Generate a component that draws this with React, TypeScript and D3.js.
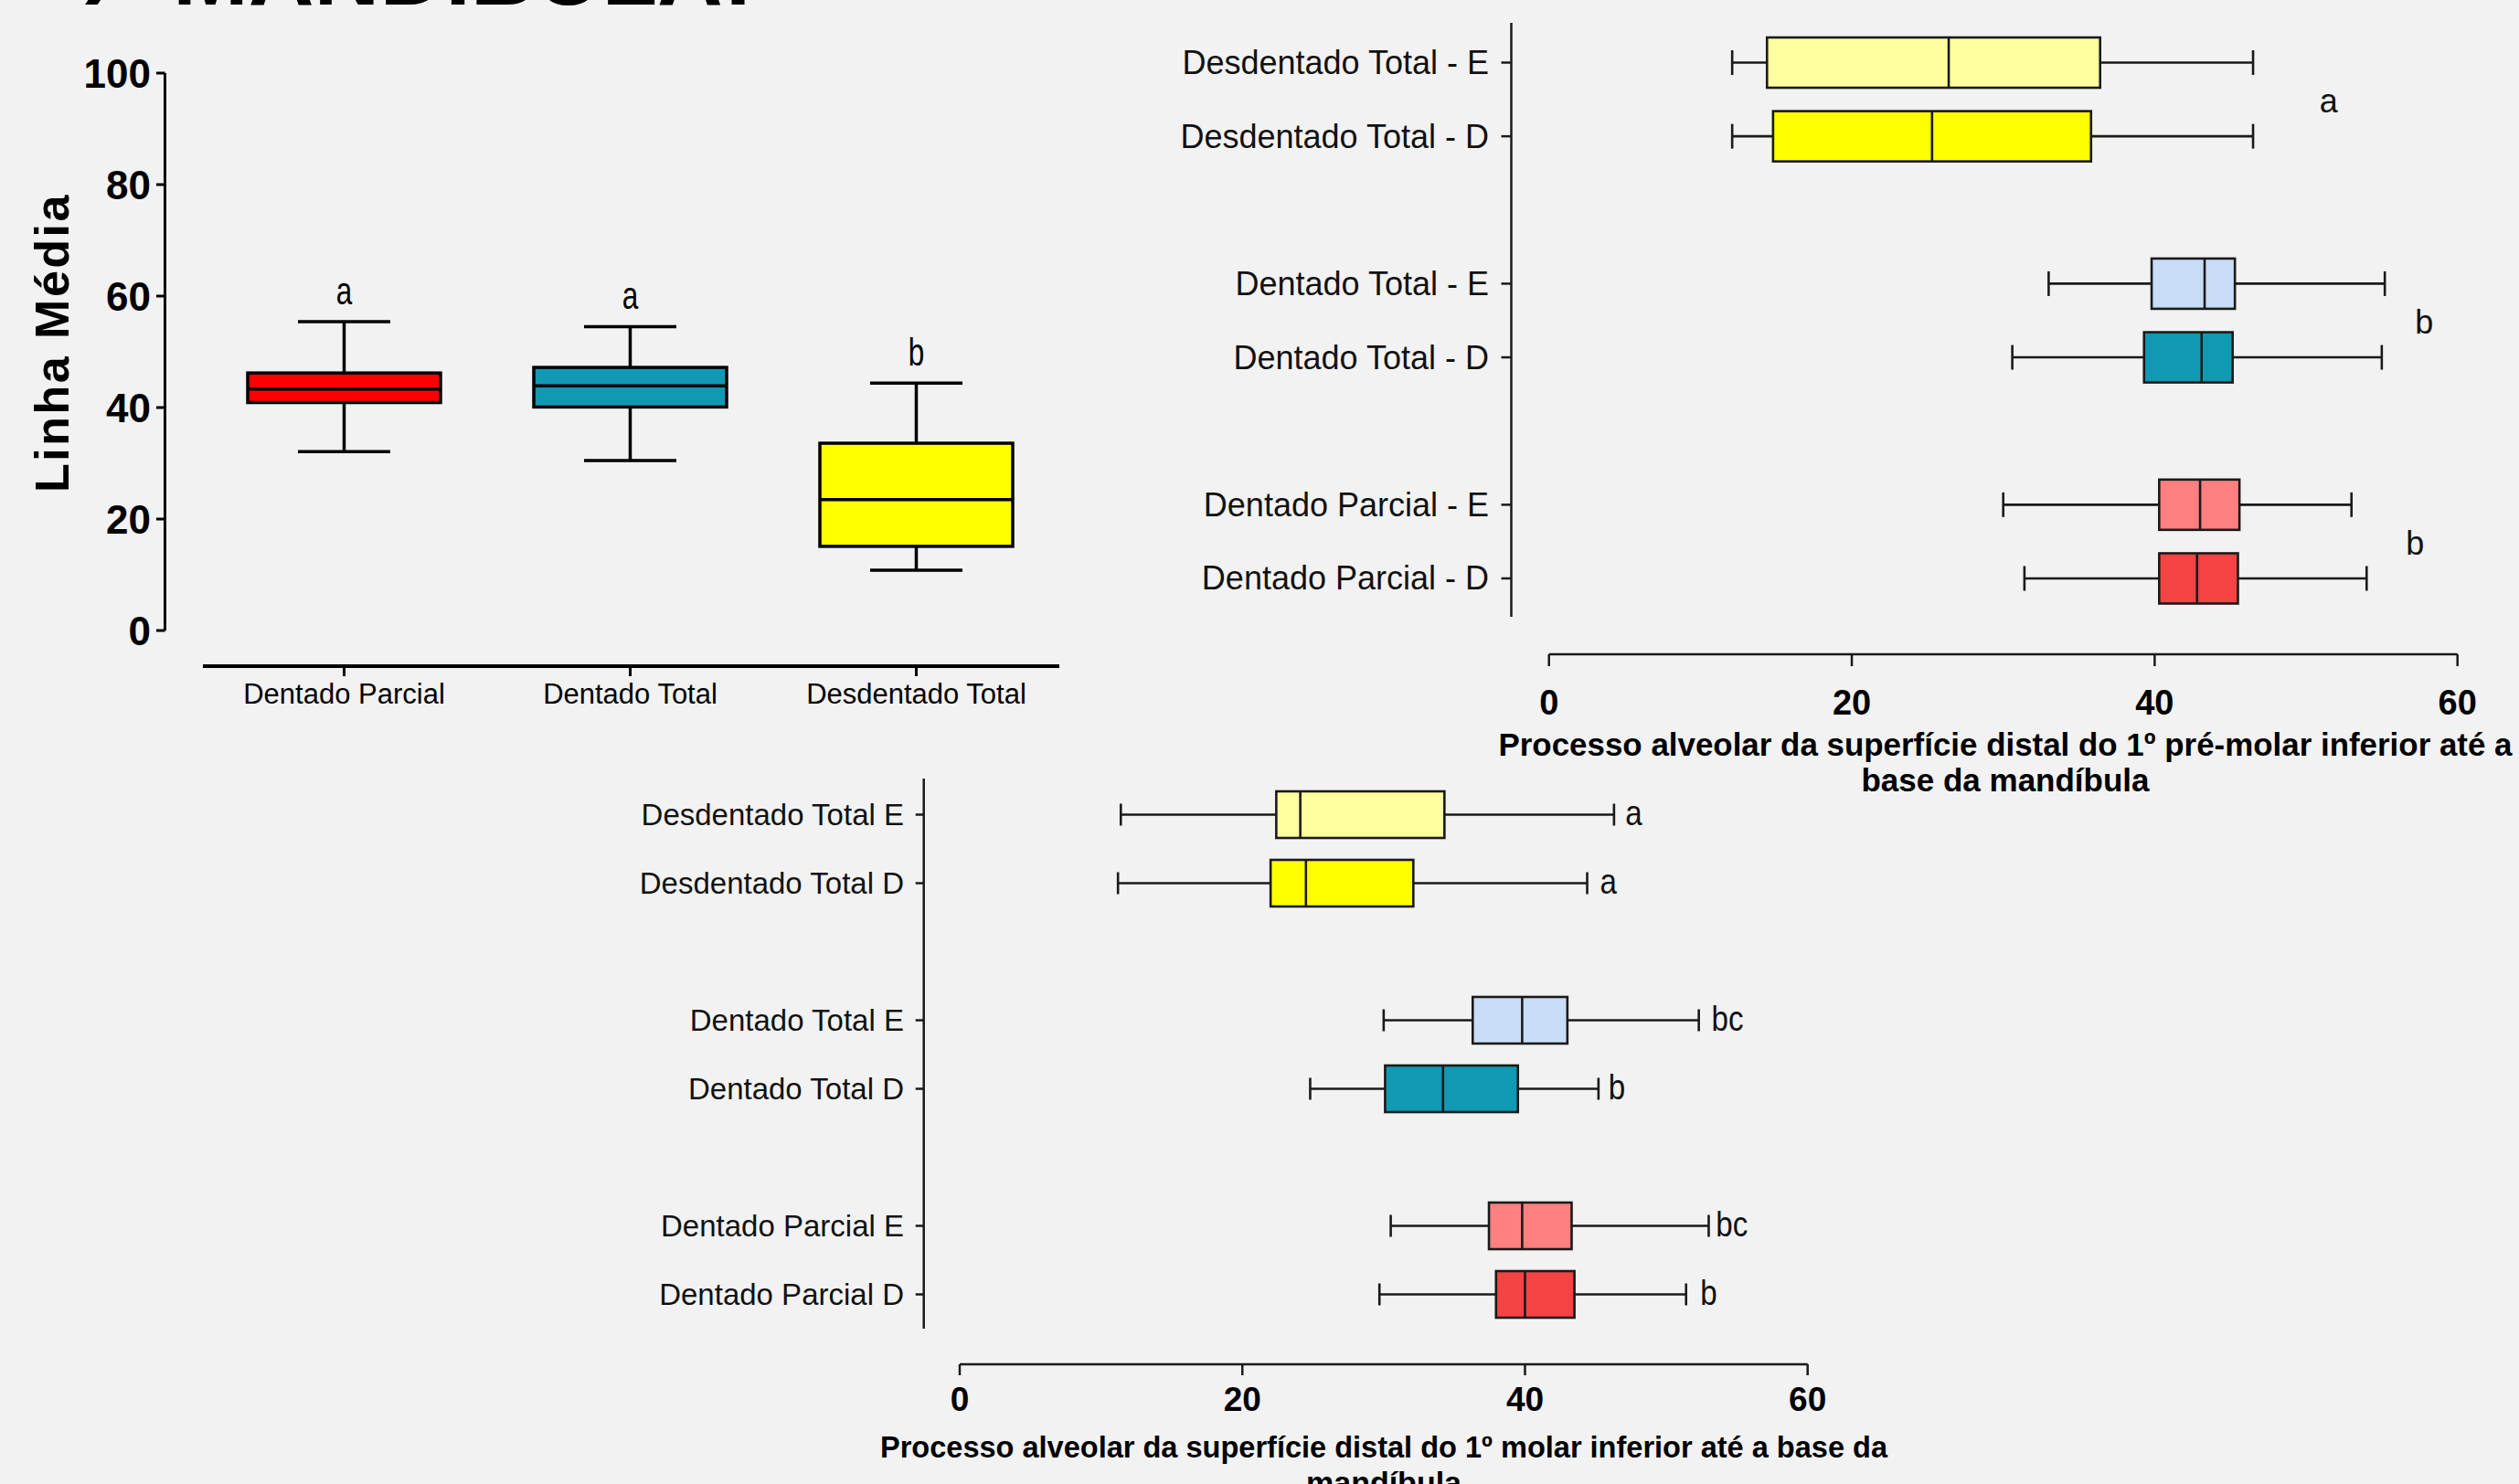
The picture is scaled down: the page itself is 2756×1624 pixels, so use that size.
import React from "react";
import * as d3 from "d3";

// ---------- Left chart (Linha Média) ----------
const leftCategories = ["Dentado Parcial", "Dentado Total", "Desdentado Total"];
const leftMin = [32.1, 30.5, 10.8];
const leftQ1 = [40.9, 40.1, 15.1];
const leftMedian = [43.3, 43.9, 23.5];
const leftQ3 = [46.2, 47.2, 33.6];
const leftMax = [55.4, 54.5, 44.4];
const leftLetters = ["a", "a", "b"];
const leftColors = ["#FF0000", "#1199B3", "#FFFF00"];
const leftYTicks = [0, 20, 40, 60, 80, 100];

// ---------- Top-right chart (1º pré-molar) ----------
const topCategories = [
  "Desdentado Total - E",
  "Desdentado Total - D",
  "Dentado Total - E",
  "Dentado Total - D",
  "Dentado Parcial - E",
  "Dentado Parcial - D",
];
const topMin = [12.1, 12.1, 33.0, 30.6, 30.0, 31.4];
const topQ1 = [14.4, 14.8, 39.8, 39.3, 40.3, 40.3];
const topMedian = [26.4, 25.3, 43.3, 43.1, 43.0, 42.8];
const topQ3 = [36.4, 35.8, 45.3, 45.15, 45.6, 45.5];
const topMax = [46.5, 46.5, 55.2, 55.0, 53.0, 54.0];
const topGroupLetters = ["a", "b", "b"];
const topGroupLetterX = [51.5, 57.8, 57.2];
const topTitle = [
  "Processo alveolar da superfície distal do 1º pré-molar inferior até a",
  "base da mandíbula",
];

// ---------- Bottom chart (1º molar) ----------
const bottomCategories = [
  "Desdentado Total E",
  "Desdentado Total D",
  "Dentado Total E",
  "Dentado Total D",
  "Dentado Parcial E",
  "Dentado Parcial D",
];
const bottomMin = [11.4, 11.2, 30.0, 24.8, 30.5, 29.7];
const bottomQ1 = [22.4, 22.0, 36.3, 30.1, 37.45, 37.95];
const bottomMedian = [24.1, 24.5, 39.8, 34.2, 39.8, 40.0];
const bottomQ3 = [34.3, 32.1, 43.0, 39.5, 43.3, 43.5];
const bottomMax = [46.3, 44.4, 52.3, 45.2, 53.0, 51.4];
const bottomLetters = ["a", "a", "bc", "b", "bc", "b"];
const bottomLetterX = [47.1, 45.3, 53.2, 45.9, 53.5, 52.4];
const bottomTitle = [
  "Processo alveolar da superfície distal do 1º molar inferior até a base da",
  "mandíbula",
];

const pairColors = ["#FFFFA0", "#FFFF00", "#C9DDF7", "#1199B3", "#FF8080", "#F54242"];
const xTicks = [0, 20, 40, 60];

const FONT = "'Liberation Sans', Arial, Helvetica, sans-serif";
const BG = "#F2F2F2";

function LeftChart() {
  const y = d3.scaleLinear().domain([0, 100]).range([690, 80]);
  const x = d3.scalePoint<string>().domain(leftCategories).range([376.5, 1002.5]);
  const boxW = 211;
  const capW = 101;
  const sw = 3.5;
  return (
    <g>
      <line x1={180.5} x2={180.5} y1={y(100)} y2={y(0)} stroke="#000" strokeWidth={3} />
      {leftYTicks.map((t) => (
        <g key={t}>
          <line x1={171} x2={180.5} y1={y(t)} y2={y(t)} stroke="#000" strokeWidth={3} />
          <text
            x={165}
            y={y(t)}
            textAnchor="end"
            dominantBaseline="central"
            fontFamily={FONT}
            fontWeight="bold"
            fontSize={44}
            fill="#000"
          >
            {t}
          </text>
        </g>
      ))}
      <text
        transform={`translate(57,375) rotate(-90)`}
        textAnchor="middle"
        dominantBaseline="central"
        fontFamily={FONT}
        fontWeight="bold"
        fontSize={52}
        letterSpacing={2.5}
        fill="#000"
      >
        Linha Média
      </text>
      <line x1={222} x2={1159} y1={729} y2={729} stroke="#000" strokeWidth={4} />
      {leftCategories.map((c) => (
        <g key={c}>
          <line x1={x(c)} x2={x(c)} y1={729} y2={740} stroke="#000" strokeWidth={3} />
          <text
            x={x(c)}
            y={759}
            textAnchor="middle"
            dominantBaseline="central"
            fontFamily={FONT}
            fontSize={31}
            fill="#000"
          >
            {c}
          </text>
        </g>
      ))}
      {leftCategories.map((c, i) => {
        const cx = x(c) as number;
        return (
          <g key={c}>
            <line x1={cx} x2={cx} y1={y(leftMax[i])} y2={y(leftQ3[i])} stroke="#000" strokeWidth={sw} />
            <line x1={cx} x2={cx} y1={y(leftQ1[i])} y2={y(leftMin[i])} stroke="#000" strokeWidth={sw} />
            <line x1={cx - capW / 2} x2={cx + capW / 2} y1={y(leftMax[i])} y2={y(leftMax[i])} stroke="#000" strokeWidth={sw} />
            <line x1={cx - capW / 2} x2={cx + capW / 2} y1={y(leftMin[i])} y2={y(leftMin[i])} stroke="#000" strokeWidth={sw} />
            <rect
              x={cx - boxW / 2}
              y={y(leftQ3[i])}
              width={boxW}
              height={y(leftQ1[i]) - y(leftQ3[i])}
              fill={leftColors[i]}
              stroke="#000"
              strokeWidth={sw}
            />
            <line x1={cx - boxW / 2} x2={cx + boxW / 2} y1={y(leftMedian[i])} y2={y(leftMedian[i])} stroke="#000" strokeWidth={sw} />
            <text
              transform={`translate(${cx},${y(leftMax[i] + 5.6)}) scale(0.75,1)`}
              textAnchor="middle"
              dominantBaseline="central"
              fontFamily={FONT}
              fontSize={42}
              fill="#000"
            >
              {leftLetters[i]}
            </text>
          </g>
        );
      })}
    </g>
  );
}

type HProps = {
  cats: string[];
  mins: number[];
  q1s: number[];
  meds: number[];
  q3s: number[];
  maxs: number[];
  xRange: [number, number];
  rowStart: number;
  slot: number;
  boxH: number;
  capH: number;
  yAxisX: number;
  yAxisTop: number;
  yAxisBottom: number;
  yTickLen: number;
  labelEnd: number;
  labelSize: number;
  axisY: number;
  axisTickLen: number;
  tickLabelY: number;
  tickLabelSize: number;
  title: string[];
  titleX: number;
  titleY: number;
  titleLineH: number;
  titleSize: number;
  titleLen: number;
};

function HBoxChart(p: HProps) {
  const x = d3.scaleLinear().domain([0, 60]).range(p.xRange);
  const slotIdx = p.cats.map((_, i) => i + Math.floor(i / 2));
  const y = d3.scaleLinear().domain([0, 7]).range([p.rowStart, p.rowStart + 7 * p.slot]);
  const sw = 2.6;
  const stroke = "#1a1a1a";
  return (
    <g>
      <line x1={p.yAxisX} x2={p.yAxisX} y1={p.yAxisTop} y2={p.yAxisBottom} stroke={stroke} strokeWidth={2.5} />
      {p.cats.map((c, i) => {
        const yy = y(slotIdx[i]);
        return (
          <g key={c}>
            <line x1={p.yAxisX - p.yTickLen} x2={p.yAxisX} y1={yy} y2={yy} stroke={stroke} strokeWidth={2.5} />
            <text
              x={p.labelEnd}
              y={yy}
              textAnchor="end"
              dominantBaseline="central"
              fontFamily={FONT}
              fontSize={p.labelSize}
              fill="#111"
            >
              {c}
            </text>
          </g>
        );
      })}
      <line x1={x(0)} x2={x(60)} y1={p.axisY} y2={p.axisY} stroke={stroke} strokeWidth={2.5} />
      {xTicks.map((t) => (
        <g key={t}>
          <line x1={x(t)} x2={x(t)} y1={p.axisY} y2={p.axisY + p.axisTickLen} stroke={stroke} strokeWidth={2.5} />
          <text
            x={x(t)}
            y={p.tickLabelY}
            textAnchor="middle"
            dominantBaseline="central"
            fontFamily={FONT}
            fontWeight="bold"
            fontSize={p.tickLabelSize}
            fill="#000"
          >
            {t}
          </text>
        </g>
      ))}
      {p.title.map((line, k) => (
        <text
          key={k}
          x={p.titleX}
          y={p.titleY + k * p.titleLineH}
          textAnchor="middle"
          dominantBaseline="central"
          fontFamily={FONT}
          fontWeight="bold"
          fontSize={p.titleSize}
          fill="#000"
          {...(k === 0 ? { textLength: p.titleLen, lengthAdjust: "spacingAndGlyphs" } : {})}
        >
          {line}
        </text>
      ))}
      {p.cats.map((c, i) => {
        const yy = y(slotIdx[i]);
        return (
          <g key={c}>
            <line x1={x(p.mins[i])} x2={x(p.q1s[i])} y1={yy} y2={yy} stroke={stroke} strokeWidth={sw} />
            <line x1={x(p.q3s[i])} x2={x(p.maxs[i])} y1={yy} y2={yy} stroke={stroke} strokeWidth={sw} />
            <line x1={x(p.mins[i])} x2={x(p.mins[i])} y1={yy - p.capH / 2} y2={yy + p.capH / 2} stroke={stroke} strokeWidth={sw} />
            <line x1={x(p.maxs[i])} x2={x(p.maxs[i])} y1={yy - p.capH / 2} y2={yy + p.capH / 2} stroke={stroke} strokeWidth={sw} />
            <rect
              x={x(p.q1s[i])}
              y={yy - p.boxH / 2}
              width={x(p.q3s[i]) - x(p.q1s[i])}
              height={p.boxH}
              fill={pairColors[i]}
              stroke={stroke}
              strokeWidth={sw}
            />
            <line x1={x(p.meds[i])} x2={x(p.meds[i])} y1={yy - p.boxH / 2} y2={yy + p.boxH / 2} stroke={stroke} strokeWidth={sw} />
          </g>
        );
      })}
    </g>
  );
}

export default function App() {
  const topX = d3.scaleLinear().domain([0, 60]).range([1694.7, 2688.7]);
  const topY = d3.scaleLinear().domain([0, 7]).range([68.5, 68.5 + 7 * 80.64]);
  const botX = d3.scaleLinear().domain([0, 60]).range([1050, 1977.7]);
  const botY = d3.scaleLinear().domain([0, 7]).range([891.5, 891.5 + 7 * 75]);
  return (
    <svg
      width={2756}
      height={1624}
      viewBox="0 0 2756 1624"
      style={{ position: "absolute", left: 0, top: 0, background: BG }}
    >
      <rect x={0} y={0} width={2756} height={1624} fill={BG} />
      <text x={93} y={-15} fontFamily={FONT} fontWeight="bold" fontSize={99} fill="#000">
        )
      </text>
      <text
        x={189}
        y={5}
        fontFamily={FONT}
        fontWeight="bold"
        fontSize={99}
        fill="#000"
        textLength={635}
        lengthAdjust="spacingAndGlyphs"
      >
        MANDÍBULA:
      </text>

      <LeftChart />

      <HBoxChart
        cats={topCategories}
        mins={topMin}
        q1s={topQ1}
        meds={topMedian}
        q3s={topQ3}
        maxs={topMax}
        xRange={[1694.7, 2688.7]}
        rowStart={68.5}
        slot={80.64}
        boxH={55}
        capH={27}
        yAxisX={1653.5}
        yAxisTop={25}
        yAxisBottom={675}
        yTickLen={11}
        labelEnd={1629}
        labelSize={36}
        axisY={716}
        axisTickLen={13}
        tickLabelY={769}
        tickLabelSize={38}
        title={topTitle}
        titleX={2194}
        titleY={814}
        titleLineH={39}
        titleSize={35}
        titleLen={1109}
      />
      {topGroupLetters.map((l, g) => (
        <text
          key={g}
          x={topX(topGroupLetterX[g])}
          y={(topY(g * 3) + topY(g * 3 + 1)) / 2 + 2}
          textAnchor="middle"
          dominantBaseline="central"
          fontFamily={FONT}
          fontSize={36}
          fill="#111"
        >
          {l}
        </text>
      ))}

      <HBoxChart
        cats={bottomCategories}
        mins={bottomMin}
        q1s={bottomQ1}
        meds={bottomMedian}
        q3s={bottomQ3}
        maxs={bottomMax}
        xRange={[1050, 1977.7]}
        rowStart={891.5}
        slot={75}
        boxH={51}
        capH={24}
        yAxisX={1010.7}
        yAxisTop={852}
        yAxisBottom={1454}
        yTickLen={9}
        labelEnd={989}
        labelSize={33}
        axisY={1493}
        axisTickLen={12}
        tickLabelY={1531}
        tickLabelSize={37}
        title={bottomTitle}
        titleX={1514}
        titleY={1583}
        titleLineH={39}
        titleSize={34}
        titleLen={1102}
      />
      {bottomLetters.map((l, i) => (
        <text
          key={i}
          transform={`translate(${botX(bottomLetterX[i])},${botY(i + Math.floor(i / 2)) - 2}) scale(0.85,1)`}
          textAnchor="start"
          dominantBaseline="central"
          fontFamily={FONT}
          fontSize={39}
          fill="#111"
        >
          {l}
        </text>
      ))}
    </svg>
  );
}
